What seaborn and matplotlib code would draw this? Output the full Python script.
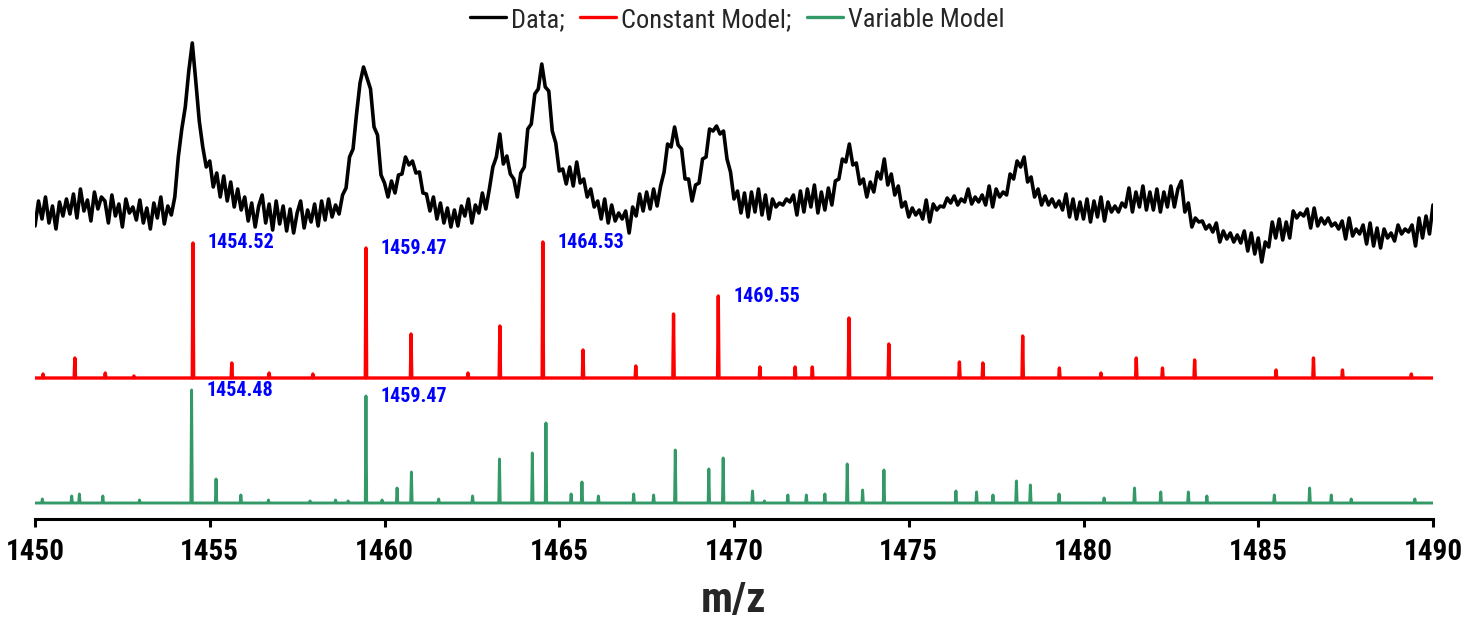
import numpy as np
import pandas as pd
import seaborn as sns
import matplotlib
matplotlib.use("Agg")
import matplotlib.pyplot as plt
from matplotlib.lines import Line2D
from matplotlib import font_manager

# ---------------- data ----------------
mz_start, mz_stop, mz_step = 1450.0, 1490.0, 0.1
data_intensity = [
    293, 318, 300, 322, 296, 313, 290, 317, 303, 320,
    305, 325, 301, 330, 308, 319, 298, 327, 310, 322,
    318, 296, 324, 303, 315, 292, 320, 306, 312, 299,
    319, 296, 311, 290, 316, 301, 322, 295, 313, 304,
    322, 362, 390, 412, 448, 476, 438, 398, 372, 352,
    358, 332, 346, 322, 343, 318, 337, 312, 330, 309,
    322, 298, 316, 292, 313, 324, 296, 315, 289, 318,
    295, 313, 288, 310, 286, 306, 318, 291, 309, 297,
    315, 293, 318, 299, 320, 302, 314, 305, 324, 331,
    362, 370, 405, 436, 452, 441, 430, 392, 384, 344,
    336, 322, 338, 326, 344, 345, 362, 354, 358, 346,
    347, 326, 325, 308, 322, 300, 316, 296, 311, 292,
    309, 293, 313, 303, 320, 296, 314, 306, 326, 310,
    330, 352, 362, 385, 355, 363, 345, 340, 322, 346,
    352, 390, 395, 425, 430, 455, 432, 428, 388, 376,
    348, 350, 335, 352, 333, 357, 336, 340, 322, 330,
    312, 318, 300, 320, 296, 314, 298, 306, 300, 308,
    286, 312, 303, 325, 308, 327, 310, 330, 313, 333,
    347, 375, 372, 392, 374, 370, 340, 340, 318, 334,
    336, 360, 362, 390, 388, 393, 385, 388, 360, 347,
    320, 328, 306, 326, 302, 327, 307, 330, 304, 324,
    300, 320, 312, 316, 314, 320, 317, 324, 304, 328,
    307, 330, 312, 334, 306, 327, 309, 331, 314, 338,
    340, 360, 357, 375, 354, 356, 335, 340, 322, 337,
    327, 347, 340, 360, 334, 345, 324, 333, 312, 317,
    302, 311, 304, 309, 300, 319, 297, 315, 309, 313,
    312, 321, 316, 323, 314, 320, 317, 330, 315, 322,
    317, 324, 314, 333, 312, 330, 322, 327, 324, 345,
    340, 358, 352, 362, 337, 342, 322, 330, 314, 323,
    314, 320, 312, 318, 309, 325, 302, 320, 300, 317,
    300, 320, 297, 318, 302, 322, 298, 317, 307, 313,
    307, 316, 312, 331, 307, 327, 312, 333, 309, 327,
    309, 330, 307, 327, 312, 333, 312, 330, 338, 307,
    316, 292, 301, 297, 298, 290, 294, 287, 296, 277,
    288, 280, 286, 277, 284, 276, 288, 268, 286, 265,
    281, 257, 277, 272, 297, 281, 300, 279, 297, 281,
    308, 301, 306, 303, 310, 291, 311, 293, 301, 295,
    301, 293, 296, 290, 298, 280, 301, 283, 290, 285,
    294, 275, 296, 273, 291, 271, 290, 281, 286, 278,
    294, 285, 290, 287, 294, 273, 301, 281, 303, 285,
    314,
]

const_mz = [1450.23, 1451.14, 1452.01, 1452.83, 1454.52, 1455.63, 1456.70, 1457.95,
            1459.47, 1460.76, 1462.39, 1463.30, 1464.53, 1465.68, 1467.19, 1468.27,
            1469.55, 1470.74, 1471.75, 1472.24, 1473.29, 1474.43, 1476.45, 1477.12,
            1478.26, 1479.31, 1480.50, 1481.51, 1482.26, 1483.18, 1485.51, 1486.58,
            1487.41, 1489.38]
const_int = [4, 20, 5, 2, 135, 15, 5, 4,
             130, 44, 5, 52, 136, 28, 12, 64,
             82, 11, 11, 11, 60, 34, 16, 15,
             42, 10, 5, 20, 10, 18, 8, 20,
             8, 4]

var_mz = [1450.21, 1451.05, 1451.27, 1451.94, 1452.99, 1454.48, 1455.18, 1455.89,
          1456.68, 1457.87, 1458.60, 1458.96, 1459.47, 1459.93, 1460.36, 1460.77,
          1461.55, 1462.52, 1463.29, 1464.23, 1464.62, 1465.34, 1465.65, 1466.12,
          1467.13, 1467.70, 1468.32, 1469.28, 1469.69, 1470.53, 1470.87, 1471.54,
          1472.07, 1472.60, 1473.24, 1473.68, 1474.29, 1476.35, 1476.94, 1477.41,
          1478.08, 1478.48, 1479.30, 1480.59, 1481.46, 1482.21, 1483.00, 1483.53,
          1485.46, 1486.47, 1487.09, 1487.66, 1489.48]
var_int = [4, 7, 9, 7, 3, 113, 24, 8,
           3, 2, 3, 2, 107, 3, 15, 31,
           4, 7, 44, 50, 80, 9, 21, 7,
           9, 8, 53, 34, 45, 12, 2, 8,
           8, 9, 39, 13, 33, 12, 11, 8,
           22, 18, 9, 5, 15, 11, 11, 7,
           8, 15, 8, 4, 4]

const_labels = ["1454.52", "1459.47", "1464.53", "1469.55"]
var_labels = ["1454.48", "1459.47"]
x_ticks = [1450, 1455, 1460, 1465, 1470, 1475, 1480, 1485, 1490]
legend_labels = ["Data;", "Constant Model;", "Variable Model"]
x_label = "m/z"

# ---------------- style ----------------
RED = "#FF0000"
GREEN = "#339966"
BLUE = "#0000FF"
CONST_BASE = 141
VAR_BASE = 16
STICK_HALF = 0.02

sns.set_theme(style="white")
avail = {f.name for f in font_manager.fontManager.ttflist}
narrow = None
for cand in ["Liberation Sans Narrow", "Arial Narrow", "Roboto Condensed", "Liberation Sans"]:
    if cand in avail:
        narrow = cand
        break
plt.rcParams["font.family"] = [narrow, "DejaVu Sans"]

fig = plt.figure(figsize=(14.75, 6.19), dpi=100)
W, H = 1475, 619
ax = fig.add_axes([35 / W, (H - 519) / H, (1433 - 35) / W, (519 - 35) / H])

mz_data = np.round(mz_start + mz_step * np.arange(len(data_intensity)), 2)
df_data = pd.DataFrame({"mz": mz_data, "intensity": data_intensity})
sns.lineplot(data=df_data, x="mz", y="intensity", estimator=None, sort=False,
             color="black", lw=2.6, ax=ax, legend=False)


def stick_profile(mz, inten, base):
    xs = [mz_start]
    ys = [base]
    for m, h in zip(mz, inten):
        xs += [m - STICK_HALF, m, m + STICK_HALF]
        ys += [base, base + h, base]
    xs.append(mz_stop)
    ys.append(base)
    return pd.DataFrame({"mz": xs, "intensity": ys})


sns.lineplot(data=stick_profile(const_mz, const_int, CONST_BASE), x="mz", y="intensity",
             estimator=None, sort=False, color=RED, lw=2.4, ax=ax, legend=False)
sns.lineplot(data=stick_profile(var_mz, var_int, VAR_BASE), x="mz", y="intensity",
             estimator=None, sort=False, color=GREEN, lw=2.1, ax=ax, legend=False)

for lab in const_labels:
    m = float(lab)
    h = const_int[const_mz.index(m)]
    ax.annotate(lab, xy=(m, CONST_BASE + h), xytext=(10.8, 0), textcoords="offset points",
                ha="left", va="center", color=BLUE, fontsize=14.5, fontweight="bold")
for lab in var_labels:
    m = float(lab)
    h = var_int[var_mz.index(m)]
    ax.annotate(lab, xy=(m, VAR_BASE + h), xytext=(10.8, 0), textcoords="offset points",
                ha="left", va="center", color=BLUE, fontsize=14.5, fontweight="bold")

ax.set_xlim(mz_start, mz_stop)
ax.set_ylim(0, 519 - 35)
ax.set_xticks(x_ticks)
ax.set_xticklabels([str(t) for t in x_ticks], fontsize=21, fontweight="bold")
ax.set_yticks([])
ax.set_ylabel("")
ax.set_xlabel(x_label, fontsize=31, fontweight="bold", labelpad=10)
for s in ["top", "right", "left"]:
    ax.spines[s].set_visible(False)
ax.spines["bottom"].set_color("black")
ax.spines["bottom"].set_linewidth(2.2)
ax.tick_params(axis="x", direction="out", length=6, width=2.2, color="black",
               pad=8, labelcolor="black", bottom=True)

handles = [Line2D([0], [0], color="black", lw=2.4),
           Line2D([0], [0], color=RED, lw=2.4),
           Line2D([0], [0], color=GREEN, lw=2.4)]
fig.legend(handles, legend_labels, loc="upper center", bbox_to_anchor=(0.5, 0.994),
           ncol=3, frameon=False, fontsize=19, handlelength=1.35, handletextpad=0.2,
           columnspacing=0.6, borderaxespad=0.0, borderpad=0.15)

fig.savefig("out.png", dpi=100, facecolor="white")
